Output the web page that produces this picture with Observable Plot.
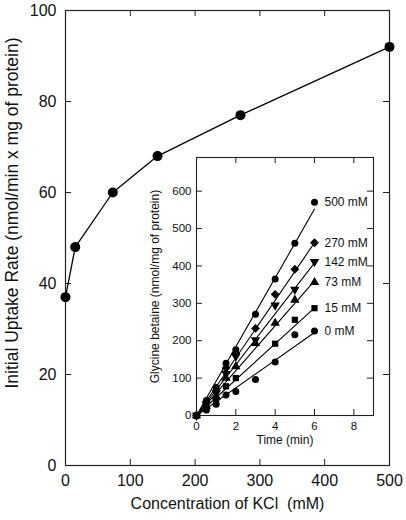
<!DOCTYPE html>
<html>
<head>
<meta charset="utf-8">
<script src="https://cdn.jsdelivr.net/npm/d3@7"></script>
<script src="https://cdn.jsdelivr.net/npm/@observablehq/plot@0.6"></script>
<style>
  body { margin: 0; background: white; }
  #wrap { position: relative; width: 406px; height: 520px; font-family: "Liberation Sans", Arial, Helvetica, sans-serif; }
  #wrap svg { position: absolute; left: 0; top: 0; }
</style>
</head>
<body>
<div id="wrap"></div>
<script>
// ---- Main chart data ----
const kcl = [0, 15, 73, 142, 270, 500];
const uptakeRate = [37, 48, 60, 68, 77, 92];
const mainXTicks = [0, 100, 200, 300, 400, 500];
const mainYTicks = [0, 20, 40, 60, 80, 100];

// ---- Inset data ----
const times = [0, 0.5, 1, 1.5, 2, 3, 4, 5, 6];
const seriesLabels = ["500 mM", "270 mM", "142 mM", "73 mM", "15 mM", "0 mM"];
const seriesKcl = [500, 270, 142, 73, 15, 0];
const g500 = [0, 40, 75, 140, 176, 271, 365, 461, 570];
const g270 = [0, 35, 66, 127, 166, 233, 324, 391, 462];
const g142 = [0, 30, 60, 112, 158, 202, 295, 337, 411];
const g73  = [0, 25, 50, 100, 131, 193, 247, 309, 356];
const g15  = [0, 20, 44, 78, 100, null, 192, 256, 287];
const g0   = [0, 15, 30, 55, 64, 96, 143, 216, 226];
const insetXTicks = [0, 2, 4, 6, 8];
const insetYTicks = [0, 100, 200, 300, 400, 500, 600];
const fitEnd = [0, 6];

const font = '"Liberation Sans", Arial, Helvetica, sans-serif';
const wrap = document.getElementById("wrap");

// main
const mainData = kcl.map((k, i) => ({k, r: uptakeRate[i]}));
const M = {l: 65, r: 17, t: 10, b: 55};
const mW = 406 - M.l - M.r, mH = 520 - M.t - M.b;
const tk = 6;
const main = Plot.plot({
  width: 406, height: 520,
  marginLeft: M.l, marginRight: M.r, marginTop: M.t, marginBottom: M.b,
  style: {fontFamily: font, fontSize: "16px", color: "#111", background: "white"},
  x: {domain: [0, 500], ticks: mainXTicks, tickSize: 0, tickPadding: 9, label: null},
  y: {domain: [0, 100], ticks: mainYTicks, tickSize: 0, tickPadding: 9, label: null},
  marks: [
    Plot.frame({stroke: "#222", strokeWidth: 1.2}),
    Plot.tickX(mainXTicks, {x: d => d, insetTop: mH - tk, stroke: "#222"}),
    Plot.tickX(mainXTicks, {x: d => d, insetBottom: mH - tk, stroke: "#222"}),
    Plot.tickY(mainYTicks, {y: d => d, insetRight: mW - tk, stroke: "#222"}),
    Plot.tickY(mainYTicks, {y: d => d, insetLeft: mW - tk, stroke: "#222"}),
    Plot.line(mainData, {x: "k", y: "r", stroke: "black", strokeWidth: 1.3}),
    Plot.dot(mainData, {x: "k", y: "r", r: 5, fill: "black"}),
    Plot.text(["Concentration of KCl  (mM)"], {frameAnchor: "bottom", dy: 43, textAnchor: "middle", fontSize: 16, fill: "#111"}),
    Plot.text(["Initial Uptake Rate (nmol/min x mg of protein)"], {frameAnchor: "left", dx: -53, dy: -25, rotate: -90, textAnchor: "middle", fontSize: 17.5, fill: "#111"})
  ]
});
wrap.appendChild(main);

// inset
const I = {l: 196, r: 33, t: 157, b: 105};
const iW = 406 - I.l - I.r, iH = 520 - I.t - I.b;
const series = [g500, g270, g142, g73, g15, g0];
const symbols = ["circle", "diamond2", "triangle", "triangle", "square", "circle"];
const rotates = [0, 0, 180, 0, 0, 0];
const pts = [];
series.forEach((arr, s) => arr.forEach((v, j) => { if (v != null) pts.push({s, t: times[j], v}); }));
const fits = [];
seriesKcl.forEach((k, s) => {
  const rate = uptakeRate[kcl.indexOf(k)];
  fitEnd.forEach(t => fits.push({s, t, v: rate * t}));
});
const labels = series.map((arr, s) => ({s, t: 6, v: arr[arr.length - 1], label: seriesLabels[s]}));

const dotMarks = series.map((arr, s) => Plot.dot(pts.filter(p => p.s === s), {
  x: "t", y: "v", r: s === 1 ? 4 : 3.5, symbol: symbols[s], rotate: rotates[s], fill: "black", stroke: "none"
}));

const inset = Plot.plot({
  width: 406, height: 520,
  marginLeft: I.l, marginRight: I.r, marginTop: I.t, marginBottom: I.b,
  style: {fontFamily: font, fontSize: "11.5px", color: "#111", background: "transparent"},
  x: {domain: [0, 9], ticks: insetXTicks, tickSize: 0, tickPadding: 6, label: null},
  y: {domain: [0, 690], ticks: insetYTicks, tickSize: 0, tickPadding: 5, label: null},
  marks: [
    Plot.frame({stroke: "#222", strokeWidth: 1.1}),
    Plot.tickX(insetXTicks, {x: d => d, insetTop: iH - tk, stroke: "#222"}),
    Plot.tickX(insetXTicks, {x: d => d, insetBottom: iH - tk, stroke: "#222"}),
    Plot.tickY(insetYTicks, {y: d => d, insetRight: iW - tk, stroke: "#222"}),
    Plot.tickY(insetYTicks, {y: d => d, insetLeft: iW - tk, stroke: "#222"}),
    Plot.line(fits, {x: "t", y: "v", z: "s", stroke: "black", strokeWidth: 1.1}),
    ...dotMarks,
    Plot.text(labels, {x: "t", y: "v", text: "label", dx: 10, textAnchor: "start", fontSize: 12, fill: "#111"}),
    Plot.text(["Time (min)"], {frameAnchor: "bottom", dy: 28, textAnchor: "middle", fontSize: 12, fill: "#111"}),
    Plot.text(["Glycine betaine (nmol/mg of protein)"], {frameAnchor: "left", dx: -41, rotate: -90, textAnchor: "middle", fontSize: 12, fill: "#111"})
  ]
});
wrap.appendChild(inset);
</script>
</body>
</html>
